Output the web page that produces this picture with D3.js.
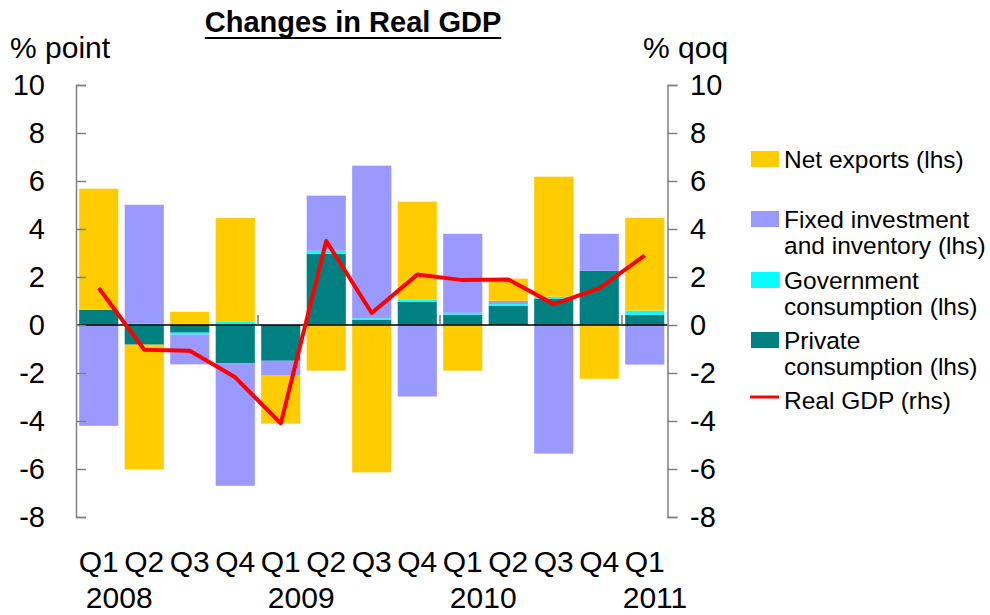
<!DOCTYPE html>
<html>
<head>
<meta charset="utf-8">
<script src="https://cdn.jsdelivr.net/npm/d3@7"></script>
<style>
body { margin: 0; background: #fff; }
text { font-family: 'Liberation Sans', Arial, sans-serif; fill: #000; }
</style>
</head>
<body>
<script>
// quarters along the bottom, year labels under them
const quarters = ['Q1', 'Q2', 'Q3', 'Q4', 'Q1', 'Q2', 'Q3', 'Q4', 'Q1', 'Q2', 'Q3', 'Q4', 'Q1'];
const years = ['2008', '2009', '2010', '2011'];
const yearStart = [0, 4, 8, 12];

// contributions, % point (lhs)
const privateCons = [0.64, -0.82, -0.32, -1.60, -1.49, 2.97, 0.22, 0.97, 0.43, 0.80, 1.10, 2.26, 0.43];
const govCons = [0.00, 0.05, -0.08, 0.13, 0.00, 0.13, 0.06, 0.08, 0.08, 0.07, 0.08, 0.00, 0.17];
const fixedInv = [-4.20, 4.96, -1.24, -5.10, -0.62, 2.29, 6.36, -2.98, 3.29, 0.14, -5.36, 1.54, -1.65];
const netExports = [5.04, -5.20, 0.55, 4.33, -2.00, -1.90, -6.14, 4.09, -1.90, 0.92, 5.00, -2.24, 3.87];

// real GDP, % qoq (rhs)
const realGdp = [1.54, -1.03, -1.07, -2.18, -4.10, 3.50, 0.50, 2.10, 1.87, 1.90, 0.87, 1.53, 2.90];

const yTicks = [10, 8, 6, 4, 2, 0, -2, -4, -6, -8];

const series = [
    {key: 'private', label: ['Private', 'consumption (lhs)'], color: '#008080', values: privateCons},
    {key: 'gov', label: ['Government', 'consumption (lhs)'], color: '#00FFFF', values: govCons},
    {key: 'fixed', label: ['Fixed investment', 'and inventory (lhs)'], color: '#9999FF', values: fixedInv},
    {key: 'net', label: ['Net exports (lhs)'], color: '#FFCC00', values: netExports}
];

const svgWidth = 990;
const svgHeight = 615;
const plot = {left: 76, right: 667.5, top: 85, bottom: 517};

const svg = d3
.select('body')
.append('svg')
.attr('width', svgWidth)
.attr('height', svgHeight)

svg.append('rect')
.attr('width', svgWidth)
.attr('height', svgHeight)
.attr('fill', '#fff')

const x = d3.scaleBand()
.domain(quarters.map((q, i) => i))
.range([plot.left, plot.right])
.paddingInner(0.14)
.paddingOuter(0.07)

const yLeft = d3.scaleLinear().domain([-8, 10]).range([plot.bottom, plot.top]);
const yRight = d3.scaleLinear().domain([-8, 10]).range([plot.bottom, plot.top]);

// one row per quarter for the stack
const rows = quarters.map((q, i) => {
    const row = {i};
    series.forEach((s) => { row[s.key] = s.values[i]; });
    return row;
})

const stacked = d3.stack()
.keys(series.map((s) => s.key))
.offset(d3.stackOffsetDiverging)(rows)

const barContainer = svg.append('g').attr('class', 'bars');

stacked.forEach((layer, li) => {
    barContainer.append('g')
    .attr('fill', series[li].color)
    .selectAll('rect')
    .data(layer).enter()
    .append('rect')
    .attr('x', (d) => x(d.data.i))
    .attr('width', x.bandwidth())
    .attr('y', (d) => yLeft(Math.max(d[0], d[1])))
    .attr('height', (d) => Math.abs(yLeft(d[0]) - yLeft(d[1])))
})

// zero line
svg.append('line')
.attr('x1', plot.left)
.attr('x2', plot.right)
.attr('y1', yLeft(0))
.attr('y2', yLeft(0))
.attr('stroke', '#000')
.attr('stroke-width', 1.5)

// year boundary ticks sitting on the zero line
svg.selectAll('.yearTick')
.data(yearStart.slice(1)).enter()
.append('line')
.attr('class', 'yearTick')
.attr('x1', (d) => x(d) - x.step() * x.paddingInner() / 2)
.attr('x2', (d) => x(d) - x.step() * x.paddingInner() / 2)
.attr('y1', yLeft(0))
.attr('y2', yLeft(0) - 10)
.attr('stroke', '#555')
.attr('stroke-width', 1.2)

// left axis, ticks point inward
const leftAxis = svg.append('g')
.attr('transform', `translate(${plot.left},0)`)
.call(d3.axisRight(yLeft).tickValues(yTicks).tickSize(10).tickFormat(''))
leftAxis.select('.domain').attr('stroke', '#808080').attr('stroke-width', 1.5)
leftAxis.selectAll('.tick line').attr('stroke', '#808080').attr('stroke-width', 1.5)

// right axis, ticks point outward
const rightAxis = svg.append('g')
.attr('transform', `translate(${plot.right},0)`)
.call(d3.axisRight(yRight).tickValues(yTicks).tickSize(10).tickFormat(''))
rightAxis.select('.domain').attr('stroke', '#808080').attr('stroke-width', 1.5)
rightAxis.selectAll('.tick line').attr('stroke', '#808080').attr('stroke-width', 1.5)

svg.selectAll('.leftLabel')
.data(yTicks).enter()
.append('text')
.attr('class', 'leftLabel')
.attr('x', 45)
.attr('y', (d) => yLeft(d))
.attr('dy', '0.36em')
.attr('text-anchor', 'end')
.style('font-size', '29px')
.text((d) => d)

svg.selectAll('.rightLabel')
.data(yTicks).enter()
.append('text')
.attr('class', 'rightLabel')
.attr('x', 690)
.attr('y', (d) => yRight(d))
.attr('dy', '0.36em')
.style('font-size', '29px')
.text((d) => d)

// real GDP line
const line = d3.line()
.x((d, i) => x(i) + x.bandwidth() / 2)
.y((d) => yRight(d))

svg.append('path')
.datum(realGdp)
.attr('d', line)
.attr('fill', 'none')
.attr('stroke', '#FF0000')
.attr('stroke-width', 4)
.attr('stroke-linejoin', 'round')

// category labels
svg.selectAll('.qLabel')
.data(quarters).enter()
.append('text')
.attr('class', 'qLabel')
.attr('x', (d, i) => x(i) + x.bandwidth() / 2)
.attr('y', 572)
.attr('text-anchor', 'middle')
.style('font-size', '30px')
.text((d) => d)

svg.selectAll('.yearLabel')
.data(years).enter()
.append('text')
.attr('class', 'yearLabel')
.attr('x', (d, i) => Math.min(x(yearStart[i]) + x.bandwidth() / 2 + x.step() * 0.45, 655))
.attr('y', 608)
.attr('text-anchor', 'middle')
.style('font-size', '30px')
.text((d) => d)

// title and axis units
const title = svg.append('text')
.attr('x', 353)
.attr('y', 32)
.attr('text-anchor', 'middle')
.style('font-size', '29px')
.style('font-weight', 'bold')
.text('Changes in Real GDP')

const tb = title.node().getBBox();
svg.append('line')
.attr('x1', tb.x)
.attr('x2', tb.x + tb.width)
.attr('y1', 38)
.attr('y2', 38)
.attr('stroke', '#000')
.attr('stroke-width', 2)

svg.append('text')
.attr('x', 10)
.attr('y', 58)
.style('font-size', '30px')
.text('% point')

svg.append('text')
.attr('x', 643)
.attr('y', 58)
.style('font-size', '30px')
.text('% qoq')

// legend, top item first
const legendItems = series.slice().reverse().concat([{key: 'gdp', label: ['Real GDP (rhs)'], color: '#FF0000', line: true}]);
const legendY = [159, 219, 280, 340, 400];

const legend = svg.append('g').attr('class', 'legend');
legendItems.forEach((item, i) => {
    const g = legend.append('g').attr('transform', `translate(0,${legendY[i]})`);
    if (item.line) {
        g.append('line')
        .attr('x1', 750)
        .attr('x2', 779)
        .attr('y1', -3)
        .attr('y2', -3)
        .attr('stroke', item.color)
        .attr('stroke-width', 3)
    } else {
        g.append('rect')
        .attr('x', 751)
        .attr('y', -8)
        .attr('width', 28)
        .attr('height', 16)
        .attr('fill', item.color)
    }
    item.label.forEach((t, j) => {
        g.append('text')
        .attr('x', 784)
        .attr('y', j * 26)
        .attr('dy', '0.36em')
        .style('font-size', '24.5px')
        .text(t)
    })
})
</script>
</body>
</html>
